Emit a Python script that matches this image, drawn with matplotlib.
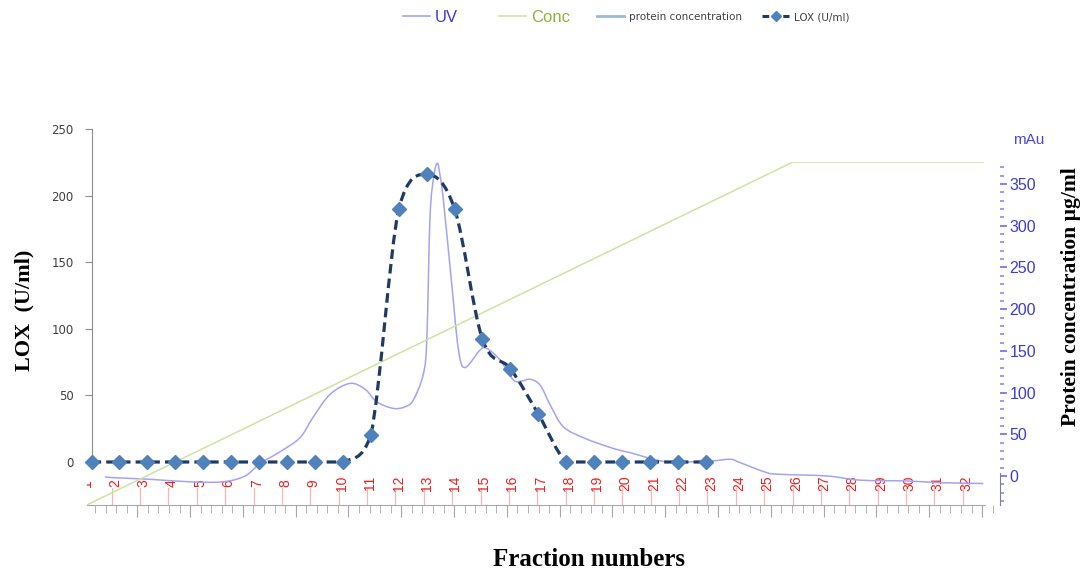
import numpy as np
import matplotlib
matplotlib.use('Agg')
import matplotlib.pyplot as plt
from matplotlib.path import Path
from matplotlib.patches import PathPatch
from matplotlib.lines import Line2D
from matplotlib.ticker import MultipleLocator, FixedLocator
import matplotlib.transforms as mtransforms

# LOX activity per fraction (Excel part of the figure)
fractions = list(range(1, 24))
lox = [0, 0, 0, 0, 0, 0, 0, 0, 0, 0, 20, 190, 216, 190, 92, 70, 36, 0, 0, 0, 0, 0, 0]

# chromatogram trace (x in collected-fraction units, UV in mAu)
uv_x = [1.76, 2.05, 3.35, 4.76, 5.92, 6.70, 7.23, 7.93, 8.64, 9.11, 9.70, 10.40,
        10.93, 11.34, 11.93, 12.34, 12.63, 12.99, 13.11, 13.22, 13.36, 13.48,
        13.57, 13.69, 13.98, 14.22, 14.45, 14.98, 15.22, 15.69, 16.16, 16.47,
        16.75, 17.10, 17.46, 17.92, 18.69, 19.68, 20.27, 21.56, 23.09, 23.80,
        24.15, 25.09, 25.56, 27.21, 28.38, 30.03, 31.20, 32.72]
uv_mau = [-1, -2, -4, -7, -7, 0, 15, 29, 46, 71, 98, 111,
          104, 89, 81, 83, 91, 123, 167, 311, 361, 375,
          361, 331, 232, 152, 130, 151, 153, 139, 115, 114,
          116, 109, 85, 59, 45, 33, 28, 17, 18, 20,
          16, 4, 2, 0, -5, -6, -8, -9]
conc_x = [1.12, 26.01, 32.72]
conc_pct = [0, 100, 100]

frac_labels = [str(i) for i in range(1, 33)]
mau_ticks = [0, 50, 100, 150, 200, 250, 300, 350]
lox_ticks = [0, 50, 100, 150, 200, 250]

W, H = 1089, 571
NARROW = ['Liberation Sans Narrow', 'Liberation Sans', 'DejaVu Sans']
SERIF = ['Liberation Serif', 'DejaVu Serif']


def smooth_path(xs, ys, clamp=False):
  # Excel style smoothed line: cubic bezier through every point
  pts = np.column_stack([xs, ys]).astype(float)
  lo, hi = pts[:, 1].min(), pts[:, 1].max()
  n = len(pts)
  verts = [pts[0]]
  codes = [Path.MOVETO]
  for i in range(n - 1):
    p0 = pts[max(i - 1, 0)]
    p1 = pts[i]
    p2 = pts[i + 1]
    p3 = pts[min(i + 2, n - 1)]
    c1 = p1 + (p2 - p0) / 6
    c2 = p2 - (p3 - p1) / 6
    if clamp:
      c1[1] = min(max(c1[1], lo), hi)
      c2[1] = min(max(c2[1], lo), hi)
    verts += [c1, c2, p2]
    codes += [Path.CURVE4] * 3
  return Path(verts, codes)


def rect(x0, y0, x1, y1):
  return [x0 / W, 1 - y1 / H, (x1 - x0) / W, (y1 - y0) / H]


def main():
  fig = plt.figure(figsize=(W / 100, H / 100), dpi=100)

  # --- chromatogram (UV) ---
  ax2 = fig.add_axes(rect(86.7, 162, 1000, 505))
  ax2.set_xlim(1.119, 33.31)
  ax2.set_ylim(-34.8, 376.5)
  ax2.patch.set_visible(False)
  for s in ['top', 'left']:
    ax2.spines[s].set_visible(False)
  ax2.spines['bottom'].set_color('#a8a8a8')
  ax2.spines['bottom'].set_bounds(1.119, 32.78)
  ax2.spines['right'].set_color('#808080')
  ax2.spines['right'].set_bounds(-34.8, 4)
  ax2.add_patch(PathPatch(smooth_path(uv_x, uv_mau), fill=False,
                          edgecolor='#a3a3f5', lw=1.1, zorder=3))

  ax2.xaxis.set_major_locator(MultipleLocator(1.861, offset=1.041))
  ax2.xaxis.set_minor_locator(MultipleLocator(0.3722, offset=0.2966))
  ax2.tick_params(axis='x', which='major', length=8.4, color='#a8a8a8',
                  labelbottom=False)
  ax2.tick_params(axis='x', which='minor', length=5.8, color='#a8a8a8')

  ax2.yaxis.tick_right()
  ax2.yaxis.set_major_locator(FixedLocator(mau_ticks))
  ax2.yaxis.set_minor_locator(MultipleLocator(10))
  ax2.tick_params(axis='y', which='major', length=5, width=1.2,
                  color='#6b6bf0', labelcolor='#3b3bd6', pad=2)
  ax2.tick_params(axis='y', which='minor', length=3, width=1.2,
                  color='#8a8af5')
  for t in ax2.get_yticklabels():
    t.set_family(NARROW)
    t.set_fontsize(11.5)
  ax2.text(1013, H - 140, 'mAu', transform=None, color='#4747d9',
           fontsize=11, family=NARROW, ha='left', va='center')

  # fraction markers of the collector
  lab_tr = mtransforms.offset_copy(ax2.transData, fig=fig, x=2.4, y=0,
                                   units='points')
  for i, lab in enumerate(frac_labels):
    f = i + 1
    ax2.plot([f, f], [-14.4, -34.8], color='#ffb3b3', lw=0.9, zorder=1)
    ax2.text(f, -8.5, lab, transform=lab_tr, rotation=90, color='#ee1c1c',
             fontsize=10, family=NARROW, ha='center', va='center',
             clip_on=True, zorder=2)

  # --- gradient ---
  ax3 = fig.add_axes(rect(86.7, 162, 1000, 505))
  ax3.set_xlim(1.119, 33.31)
  ax3.set_ylim(0, 100)
  ax3.axis('off')
  ax3.plot(conc_x, conc_pct, color='#cfe3a0', lw=1.1)

  # --- LOX activity ---
  ax = fig.add_axes(rect(86.7, 129, 1000, 462))
  ax.set_xlim(0.828, 33.53)
  ax.set_ylim(0, 250)
  ax.patch.set_visible(False)
  for s in ['top', 'right', 'bottom']:
    ax.spines[s].set_visible(False)
  ax.spines['left'].set_position(('data', 1))
  ax.spines['left'].set_color('#8c8c8c')
  ax.set_xticks([])
  ax.set_yticks(lox_ticks)
  ax.tick_params(axis='y', length=5, color='#8c8c8c', labelsize=8.5,
                 labelcolor='#404040', pad=8)
  ax.add_patch(PathPatch(smooth_path(fractions, lox, clamp=True), fill=False,
                         edgecolor='#1f3b64', lw=2.3,
                         linestyle=(0, (3, 1.6)), zorder=4, clip_on=False))
  ax.plot(fractions, lox, ls='none', marker='D', ms=7, color='#4f81bd',
          zorder=5, clip_on=False)

  fig.text(24 / W, 1 - 310 / H, 'LOX  (U/ml)', family=SERIF,
           fontweight='bold', fontsize=16, rotation=90,
           ha='center', va='center')
  fig.text(1071 / W, 1 - 297 / H, 'Protein concentration \u00b5g/ml',
           family=SERIF, fontweight='bold', fontsize=15.5, rotation=90,
           ha='center', va='center')
  fig.text(589 / W, 1 - 559 / H, 'Fraction numbers', family=SERIF,
           fontweight='bold', fontsize=18, ha='center', va='center')

  # legends along the top
  h_uv = Line2D([], [], color='#a3a3f5', lw=1.2)
  h_conc = Line2D([], [], color='#cfe3a0', lw=1.2)
  leg1 = fig.legend([h_uv, h_conc], ['UV', 'Conc'], ncol=2, frameon=False,
                    loc='center left', bbox_to_anchor=(403 / W, 1 - 17 / H),
                    borderpad=0, borderaxespad=0, handlelength=1.6,
                    handletextpad=0.3, columnspacing=2.5,
                    prop={'family': NARROW, 'size': 12})
  leg1.get_texts()[0].set_color('#3b3bd6')
  leg1.get_texts()[1].set_color('#8cb33a')

  h_prot = Line2D([], [], color='#9cb8dc', lw=2)
  h_lox = Line2D([], [], color='#1f3b64', lw=2.2, ls=(0, (2.2, 1.2)),
                 marker='D', ms=5, mfc='#4f81bd', mec='#4f81bd')
  fig.legend([h_prot, h_lox], ['protein concentration', 'LOX (U/ml)'],
             ncol=2, frameon=False, loc='center left', numpoints=1,
             bbox_to_anchor=(597 / W, 1 - 17 / H), borderpad=0,
             borderaxespad=0, handlelength=2.6, handletextpad=0.5,
             columnspacing=1.9, labelcolor='#404040',
             prop={'size': 7.5})

  fig.savefig('out.png', dpi=100)


if __name__ == '__main__':
  main()
